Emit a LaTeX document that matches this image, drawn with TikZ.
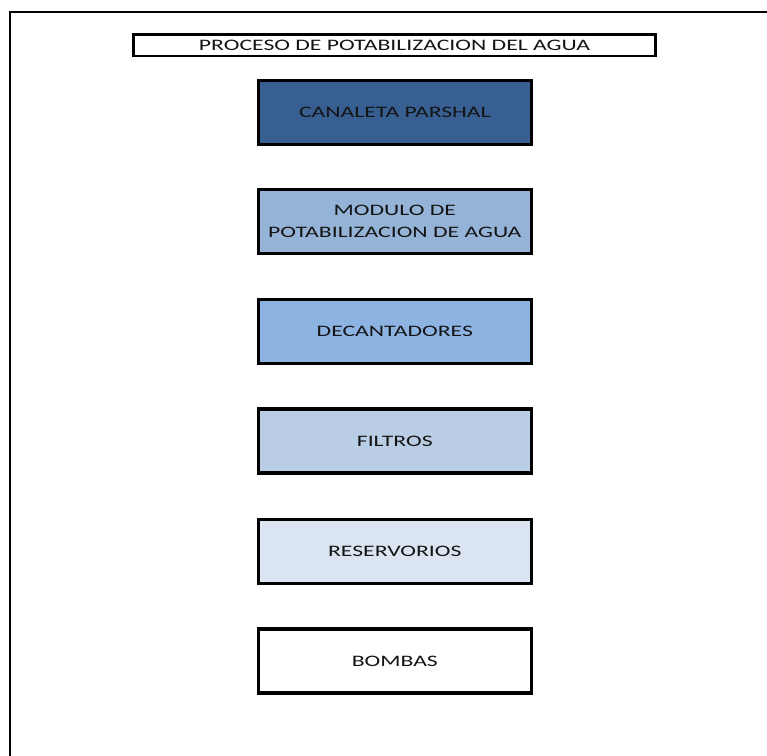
\documentclass[tikz,border=0pt]{standalone}
\usepackage{fontspec}
\usepackage{graphicx}
\setmainfont{Carlito}
\definecolor{cA}{HTML}{375F92}
\definecolor{cB}{HTML}{95B3D7}
\definecolor{cC}{HTML}{8DB3E2}
\definecolor{cD}{HTML}{B9CDE5}
\definecolor{cE}{HTML}{DBE5F1}
\definecolor{txt}{HTML}{141414}
\newcommand{\sx}[1]{\scalebox{1.48}[1]{#1}}
\begin{document}
\begin{tikzpicture}[x=1pt,y=-1pt,
  stagebox/.style={draw=black, line width=3.2pt, minimum width=273pt, minimum height=64pt,
    inner sep=0pt, align=center, text=txt, font=\fontsize{16}{22.5}\selectfont},
  titlebox/.style={draw=black, line width=2.8pt, minimum width=521.5pt, minimum height=21.3pt,
    inner sep=0pt, text=txt, font=\fontsize{16}{18}\selectfont}]
\useasboundingbox (0,0) rectangle (767,755);
\fill[white] (0,0) rectangle (767,755);
\coordinate (fbl) at (10.3,760);
\coordinate (ftl) at (10.3,12);
\coordinate (ftr) at (770,12);
\draw[line width=2pt] (fbl) -- (ftl) -- (ftr);
\node[titlebox] (title) at (394.5,45.3) {\sx{PROCESO DE POTABILIZACION DEL AGUA}};
\node[stagebox, fill=cA] (canaleta) at (394.8,112.2) {\sx{CANALETA PARSHAL}};
\node[stagebox, fill=cB] (modulo) at (394.8,221.5) {\sx{MODULO DE}\\\sx{POTABILIZACION DE AGUA}};
\node[stagebox, fill=cC] (decant) at (394.8,331.5) {\sx{DECANTADORES}};
\node[stagebox, fill=cD] (filtros) at (394.8,441) {\sx{FILTROS}};
\node[stagebox, fill=cE] (reserv) at (394.8,551.3) {\sx{RESERVORIOS}};
\node[stagebox, fill=white] (bombas) at (394.8,661) {\sx{BOMBAS}};
\end{tikzpicture}
\end{document}
